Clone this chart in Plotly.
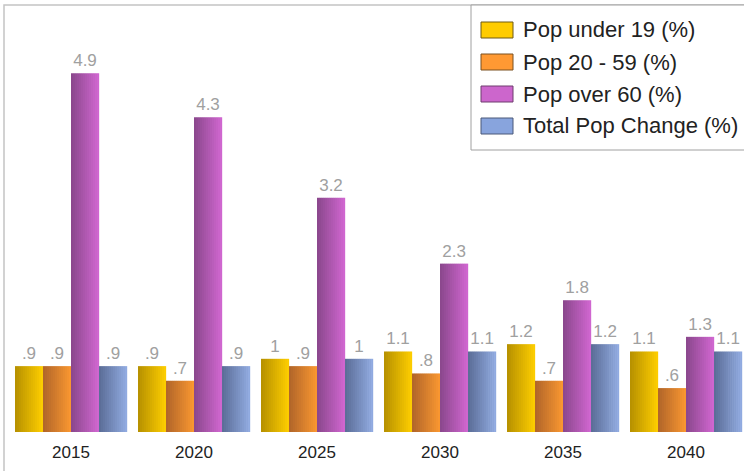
import plotly.graph_objects as go

years = ["2015", "2020", "2025", "2030", "2035", "2040"]
series_names = ["Pop under 19 (%)", "Pop 20 - 59 (%)", "Pop over 60 (%)", "Total Pop Change (%)"]
pop_under_19 = [0.9, 0.9, 1.0, 1.1, 1.2, 1.1]
pop_20_59 = [0.9, 0.7, 0.9, 0.8, 0.7, 0.6]
pop_over_60 = [4.9, 4.3, 3.2, 2.3, 1.8, 1.3]
total_change = [0.9, 0.9, 1.0, 1.1, 1.2, 1.1]
series_values = [pop_under_19, pop_20_59, pop_over_60, total_change]

# gradient (left -> right) and legend swatch colours
grad = [((0xb8, 0x92, 0x00), (0xfc, 0xcc, 0x00)),
        ((0xb2, 0x66, 0x2a), (0xf8, 0x96, 0x30)),
        ((0x8c, 0x48, 0x8e), (0xcf, 0x66, 0xcf)),
        ((0x5c, 0x6e, 0x98), (0x90, 0xaa, 0xe0))]
legend_colors = ["#ffcc00", "#ff9933", "#cc66cc", "#88a4dd"]
legend_borders = ["#6e5a14", "#7a5020", "#6e3c6e", "#4a5878"]


def fmt(v):
    s = ("%g" % v)
    if s.startswith("0."):
        s = s[1:]
    return s


fig = go.Figure()

bargap = 0.089
group_w = 1 - bargap
bar_w = group_w / 4
N = 14

for j, vals in enumerate(series_values):
    base_off = -group_w / 2 + j * bar_w
    c0, c1 = grad[j]
    for k in range(N):
        t = k / (N - 1)
        col = "rgb(%d,%d,%d)" % tuple(round(c0[i] + (c1[i] - c0[i]) * t) for i in range(3))
        fig.add_trace(go.Bar(
            x=years, y=vals, offset=base_off + k * bar_w / N, width=bar_w / N * 1.08,
            marker=dict(color=col, line=dict(width=0)), showlegend=False,
            hoverinfo="skip"))
    # value labels
    fig.add_trace(go.Bar(
        x=years, y=vals, offset=base_off, width=bar_w,
        marker=dict(color="rgba(0,0,0,0)", line=dict(width=0)),
        text=[fmt(v) for v in vals], textposition="outside",
        textfont=dict(family="Liberation Sans, Arial", size=17, color="#a0a0a0"),
        cliponaxis=False, showlegend=False, name=series_names[j]))

# plot area in pixels: x 4..744, y 5..432
PX0, PW, PY1, PH = 4, 740, 432, 427


def px(x):
    return (x - PX0) / PW


def py(y):
    return (PY1 - y) / PH


shapes = [dict(type="rect", xref="paper", yref="paper", x0=0, x1=1.02, y0=-0.2, y1=1,
               line=dict(color="#c4c4c4", width=1.5), layer="below"),
          dict(type="rect", xref="paper", yref="paper", x0=px(471), x1=px(760), y0=py(150), y1=1,
               line=dict(color="#a0a0a0", width=1), fillcolor="white", layer="above")]
annotations = []
for j, name in enumerate(series_names):
    cy = 30 + 32 * j
    shapes.append(dict(type="rect", xref="paper", yref="paper", x0=px(481), x1=px(513),
                       y0=py(cy + 8), y1=py(cy - 8), fillcolor=legend_colors[j],
                       line=dict(color=legend_borders[j], width=1), layer="above"))
    annotations.append(dict(xref="paper", yref="paper", x=px(521), y=py(cy), xanchor="left",
                            yanchor="middle", text=name, showarrow=False,
                            font=dict(size=22, color="#222222")))

fig.update_layout(
    width=744, height=471,
    barmode="overlay",
    plot_bgcolor="white", paper_bgcolor="white",
    margin=dict(l=4, r=0, t=5, b=39),
    font=dict(family="Liberation Sans, Arial", color="#222222"),
    xaxis=dict(range=[-0.5447, 5.4715], showgrid=False, zeroline=False, showline=False,
               tickfont=dict(size=17, color="#222222"), ticklabelstandoff=8, fixedrange=True),
    yaxis=dict(range=[0, 5.833], visible=False, showgrid=False, fixedrange=True),
    shapes=shapes,
    annotations=annotations,
    showlegend=False,
)

fig.write_html("out.html", config={"displayModeBar": False},
               post_script="document.body.style.margin='0';document.body.style.overflow='hidden';")
